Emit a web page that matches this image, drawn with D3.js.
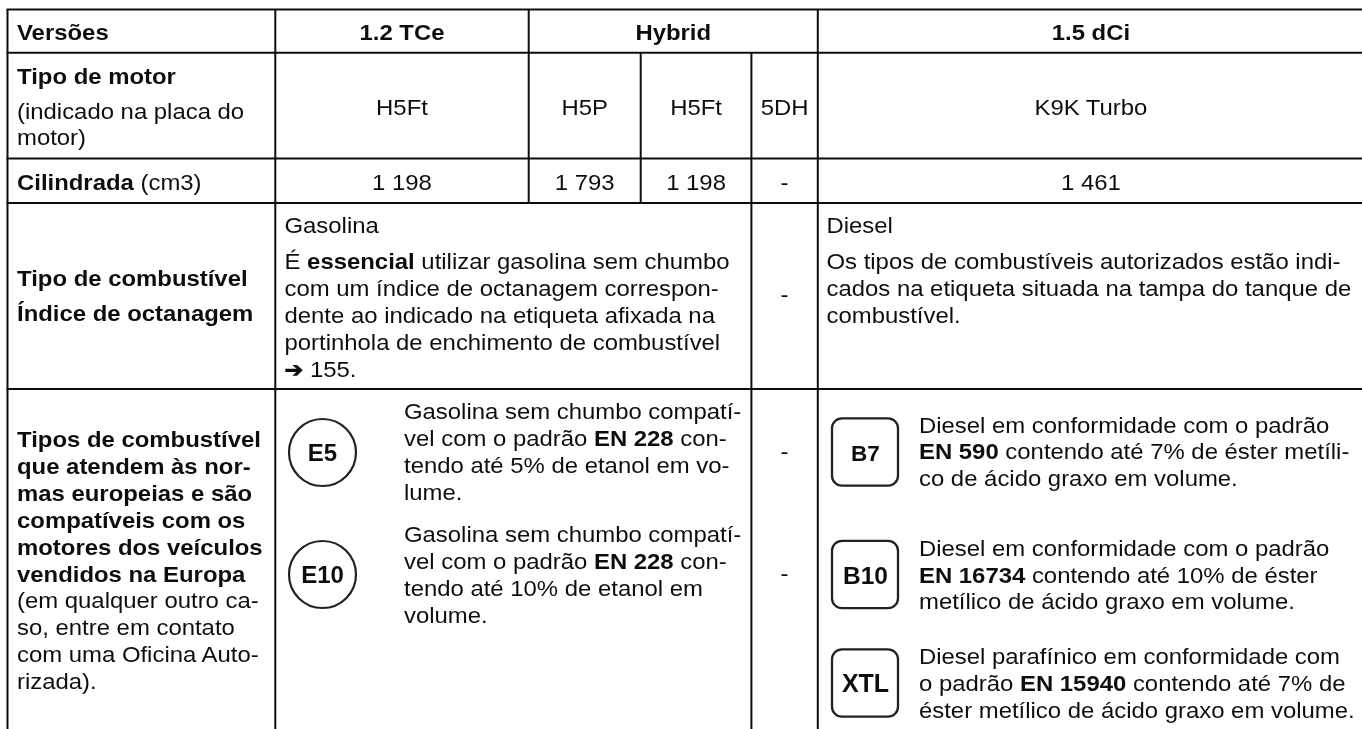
<!DOCTYPE html>
<html><head><meta charset="utf-8">
<script src="https://cdn.jsdelivr.net/npm/d3@7"></script>
<style>html,body{margin:0;padding:0;background:#fff}svg{display:block}text{font-family:"Liberation Sans",Arial,sans-serif;fill:#111}</style>
</head><body><svg id="c" width="1362" height="729"><defs><filter id="soft" x="0" y="0" width="100%" height="100%"><feGaussianBlur stdDeviation="0.35"/></filter></defs></svg>
<script>
// ---- content
const versions = ["Versões","1.2 TCe","Hybrid","1.5 dCi"];
const engines = ["H5Ft","H5P","H5Ft","5DH","K9K Turbo"];
const displacement = ["1 198","1 793","1 198","-","1 461"];
const engineLabel = ["**Tipo de motor**","(indicado na placa do","motor)"];
const displacementLabel = ["**Cilindrada** (cm3)"];
const fuelLabel = ["**Tipo de combustível**","**Índice de octanagem**"];
const fuelPetrol = ["Gasolina","É **essencial** utilizar gasolina sem chumbo","com um índice de octanagem correspon-","dente ao indicado na etiqueta afixada na","portinhola de enchimento de combustível","➔ 155."];
const fuelDiesel = ["Diesel","Os tipos de combustíveis autorizados estão indi-","cados na etiqueta situada na tampa do tanque de","combustível."];
const normLabel = ["**Tipos de combustível**","**que atendem às nor-**","**mas europeias e são**","**compatíveis com os**","**motores dos veículos**","**vendidos na Europa**","(em qualquer outro ca-","so, entre em contato","com uma Oficina Auto-","rizada)."];
const petrolBadges = ["E5","E10"];
const petrolTexts = [
 ["Gasolina sem chumbo compatí-","vel com o padrão **EN 228** con-","tendo até 5% de etanol em vo-","lume."],
 ["Gasolina sem chumbo compatí-","vel com o padrão **EN 228** con-","tendo até 10% de etanol em","volume."]];
const dieselBadges = ["B7","B10","XTL"];
const dieselTexts = [
 ["Diesel em conformidade com o padrão","**EN 590** contendo até 7% de éster metíli-","co de ácido graxo em volume."],
 ["Diesel em conformidade com o padrão","**EN 16734** contendo até 10% de éster","metílico de ácido graxo em volume."],
 ["Diesel parafínico em conformidade com","o padrão **EN 15940** contendo até 7% de","éster metílico de ácido graxo em volume."]];

// ---- layout
const X = d3.scaleOrdinal(["left","c1","c2","c3","c4","c5","right"],[7.5,275.3,528.7,640.7,751.4,817.8,1364]);
const Y = d3.scaleOrdinal(["top","r1","r2","r3","r4","bottom"],[9.5,52.7,158.5,203,389,731]);
const mid = (a,b)=>(X(a)+X(b))/2;
const svg = d3.select("#c");
const root = svg.append("g").attr("filter","url(#soft)");
root.append("rect").attr("width",1362).attr("height",729).attr("fill","#fff");
const LH = 27, FS = 22.4, SX = 1.067;

const grid = root.append("g").attr("stroke","#111").attr("stroke-width",2);
const hLines = [["top","left","right"],["r1","left","right"],["r2","left","right"],["r3","left","right"],["r4","left","right"]];
const vLines = [["left","top","bottom"],["c1","top","bottom"],["c2","top","r3"],["c3","r1","r3"],["c4","r1","bottom"],["c5","top","bottom"]];
grid.selectAll(".h").data(hLines).join("line").attr("x1",d=>X(d[1])-1).attr("x2",d=>X(d[2])).attr("y1",d=>Y(d[0])).attr("y2",d=>Y(d[0]));
grid.selectAll(".v").data(vLines).join("line").attr("x1",d=>X(d[0])).attr("x2",d=>X(d[0])).attr("y1",d=>Y(d[1])).attr("y2",d=>Y(d[2]));

function rich(sel, s){
  s.split("**").forEach((p,i)=>{ if(!p) return;
    if(p.startsWith("➔")){ sel.append("tspan").style("font-family","DejaVu Sans").style("font-size","21px").style("font-weight","bold").attr("stroke","#111").attr("stroke-width",0.8).text("➔");
      sel.append("tspan").text(p.slice(1)); return; }
    sel.append("tspan").style("font-weight",i%2?"700":"400").text(p);});
}
function line(x,y,s,anchor="start"){ const t=root.append("text").attr("transform",`translate(${x},${y}) scale(${SX},1)`).attr("font-size",FS).attr("text-anchor",anchor).attr("xml:space","preserve"); rich(t,s); return t;}
function block(x,y,arr,lh=LH){ arr.forEach((s,i)=>line(x,y+i*lh,s)); }

const TX = 17;
// header
line(TX,40,"**"+versions[0]+"**");
line(mid("c1","c2"),40,"**"+versions[1]+"**","middle");
line(mid("c2","c5"),40,"**"+versions[2]+"**","middle");
line(mid("c5","right"),40,"**"+versions[3]+"**","middle");
// engine
line(TX,84,engineLabel[0]); line(TX,118.5,engineLabel[1]); line(TX,145,engineLabel[2]);
const cells=[["c1","c2"],["c2","c3"],["c3","c4"],["c4","c5"],["c5","right"]];
engines.forEach((e,i)=>line(mid(...cells[i]),115,e,"middle"));
displacement.forEach((e,i)=>line(mid(...cells[i]),190,e,"middle"));
line(TX,190,displacementLabel[0]);
// fuel
line(TX,286,fuelLabel[0]); line(TX,321,fuelLabel[1]);
line(284.5,233,fuelPetrol[0]); block(284.5,269,fuelPetrol.slice(1));
line(826.5,233,fuelDiesel[0]); block(826.5,269,fuelDiesel.slice(1));
line(mid("c4","c5"),302,"-","middle");
// norms
block(TX,447,normLabel,26.9);
block(404,418.5,petrolTexts[0]); block(404,541.5,petrolTexts[1]);
line(mid("c4","c5"),459,"-","middle"); line(mid("c4","c5"),581,"-","middle");
block(919,432.5,dieselTexts[0],26.7); block(919,556,dieselTexts[1],26.7); block(919,664,dieselTexts[2],26.8);

// badges
const ellipseY=d3.scaleOrdinal(petrolBadges,[452.5,574.5]);
const g=root.append("g");
g.selectAll("ellipse").data(petrolBadges).join("ellipse").attr("cx",322.5).attr("cy",d=>ellipseY(d)).attr("rx",33.5).attr("ry",33.5).attr("fill","#fff").attr("stroke","#222").attr("stroke-width",2.2);
g.selectAll("text.e").data(petrolBadges).join("text").attr("class","e").attr("x",322.5).attr("y",d=>ellipseY(d)+8).attr("text-anchor","middle").attr("font-size",24).attr("font-weight",700).text(d=>d);
const rectY=d3.scaleOrdinal(dieselBadges,[452,574.5,683]);
const badgeSize=d3.scaleOrdinal(dieselBadges,[22.5,24.5,25]);
g.selectAll("rect").data(dieselBadges).join("rect").attr("x",832).attr("y",d=>rectY(d)-33.7).attr("width",66).attr("height",67.4).attr("rx",10).attr("fill","#fff").attr("stroke","#222").attr("stroke-width",2.3);
g.selectAll("text.d").data(dieselBadges).join("text").attr("class","d").attr("x",865.5).attr("y",d=>rectY(d)+9).attr("text-anchor","middle").attr("font-size",d=>badgeSize(d)).attr("font-weight",700).text(d=>d);
</script></body></html>
